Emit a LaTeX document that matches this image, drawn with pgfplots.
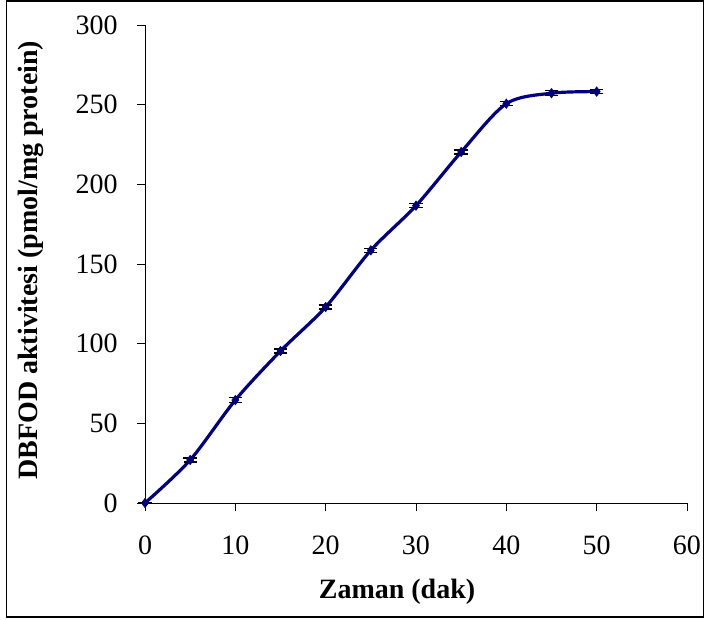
\documentclass[border=0pt]{standalone}
\usepackage{fontspec}
\setmainfont{Liberation Serif}
\usepackage{pgfplots}
\pgfplotsset{compat=1.18}
\definecolor{navyline}{HTML}{000080}

\begin{document}
\begin{tikzpicture}
\useasboundingbox (0,0) rectangle (528pt,464.25pt);
\draw[line width=0.8pt] (5pt,1.5pt) rectangle (527.5pt,463.5pt);
\begin{axis}[
  at={(108.75pt,87pt)}, anchor=south west,
  scale only axis, width=406.5pt, height=358.5pt,
  xmin=0, xmax=60, ymin=0, ymax=300,
  xtick={0,10,...,60}, ytick={0,50,...,300},
  axis lines=left, axis line style={-, line width=0.6pt},
  tick align=outside, major tick length=6pt,
  tick style={line width=0.6pt, black},
  /pgf/number format/assume math mode=true,
  tick label style={font=\fontsize{21}{24}\selectfont},
  xticklabel style={yshift=-15pt},
  yticklabel style={xshift=-11pt},
  label style={font=\fontsize{21}{24}\selectfont\bfseries},
  xlabel={Zaman (dak)}, ylabel={DBFOD aktivitesi (pmol/mg protein)},
  x label style={at={(axis description cs:0.465,-0.199)}, anchor=base},
  y label style={at={(axis description cs:-0.199,0.508)}, anchor=base},
  clip=false]
\addplot[navyline, line width=2.4pt, smooth, mark=diamond*,
  mark size=3.5pt, mark options={fill=navyline, line width=0.5pt},
  error bars/.cd, y dir=both, y explicit,
  error bar style={black, line width=1pt},
  error mark options={black, line width=1pt, mark size=5pt, rotate=90}]
coordinates {
(0,0) +- (0,0)
(5,27) +- (0,1.3)
(10,64.6) +- (0,1.5)
(15,95.4) +- (0,1.3)
(20,123) +- (0,1.3)
(25,158.6) +- (0,1.3)
(30,186.6) +- (0,1.3)
(35,220.3) +- (0,1.3)
(40,250.6) +- (0,1.3)
(45,257.2) +- (0,1.5)
(50,258.2) +- (0,1.3)
};
\end{axis}
\end{tikzpicture}
\end{document}
